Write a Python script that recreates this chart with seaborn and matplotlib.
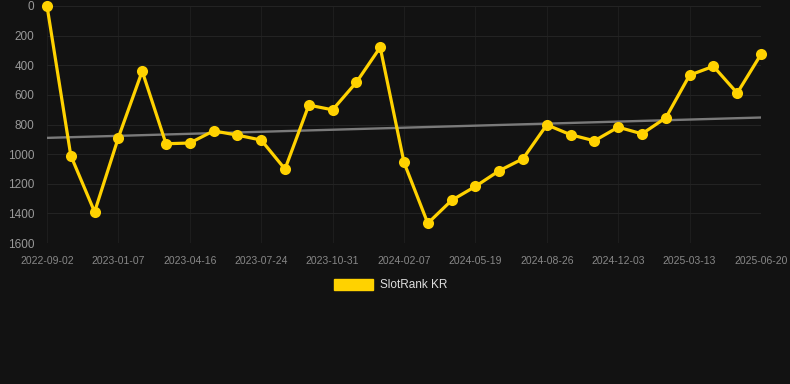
import numpy as np
import pandas as pd
import matplotlib
matplotlib.use('Agg')
import matplotlib.pyplot as plt
import matplotlib.patches as mpatches
import seaborn as sns

# rank values, one point per period
rank = [0, 1010, 1390, 888, 440, 930, 925, 843, 872, 905,
        1101, 669, 701, 515, 279, 1056, 1467, 1312, 1218, 1112,
        1031, 802, 869, 910, 818, 863, 755, 467, 407, 588, 326]
tick_labels = ['2022-09-02', '2023-01-07', '2023-04-16', '2023-07-24', '2023-10-31',
               '2024-02-07', '2024-05-19', '2024-08-26', '2024-12-03', '2025-03-13',
               '2025-06-20']
series_name = 'SlotRank KR'

df = pd.DataFrame({'idx': np.arange(len(rank)), 'rank': rank})

# linear trend
coef = np.polyfit(df['idx'], df['rank'], 1)
df['trend'] = np.polyval(coef, df['idx'])

bg = '#121212'
gold = '#FFD200'

sns.set_theme(style='dark')
plt.rcParams['font.family'] = ['Liberation Sans', 'DejaVu Sans']

fig = plt.figure(figsize=(7.9, 3.84), dpi=100, facecolor=bg)
ax = fig.add_axes([47 / 790, 1 - 243 / 384, (761 - 47) / 790, (243 - 6) / 384])
ax.set_facecolor(bg)

sns.lineplot(data=df, x='idx', y='trend', ax=ax, color='#7a7a7a', linewidth=1.7, zorder=2)
sns.lineplot(data=df, x='idx', y='rank', ax=ax, color=gold, linewidth=2.3,
             marker='o', markersize=8, markeredgewidth=0, zorder=3, clip_on=False)

ax.set_xlim(0, len(rank) - 1)
ax.set_ylim(1600, 0)
ax.set_yticks(range(0, 1601, 200))
ax.set_xticks(range(0, len(rank), 3))
ax.set_xticklabels(tick_labels)
ax.set_xlabel('')
ax.set_ylabel('')

ax.grid(True, axis='y', color='#232323', linewidth=0.8)
ax.grid(True, axis='x', color='#1d1d1d', linewidth=0.8)
for s in ax.spines.values():
    s.set_visible(False)
ax.tick_params(axis='y', colors='#999999', labelsize=8.5, length=6, color='#232323', pad=3)
ax.tick_params(axis='x', colors='#888888', labelsize=7.5, length=6, color='#1d1d1d', pad=3)

handle = mpatches.Patch(color=gold, label=series_name)
leg = fig.legend(handles=[handle], loc='center', bbox_to_anchor=(0.494, 1 - 285 / 384),
                 frameon=False, fontsize=8.5, handlelength=3.3, handleheight=1.1,
                 handletextpad=0.6)
for t in leg.get_texts():
    t.set_color('#dddddd')

fig.savefig('out.png', dpi=100, facecolor=bg)
